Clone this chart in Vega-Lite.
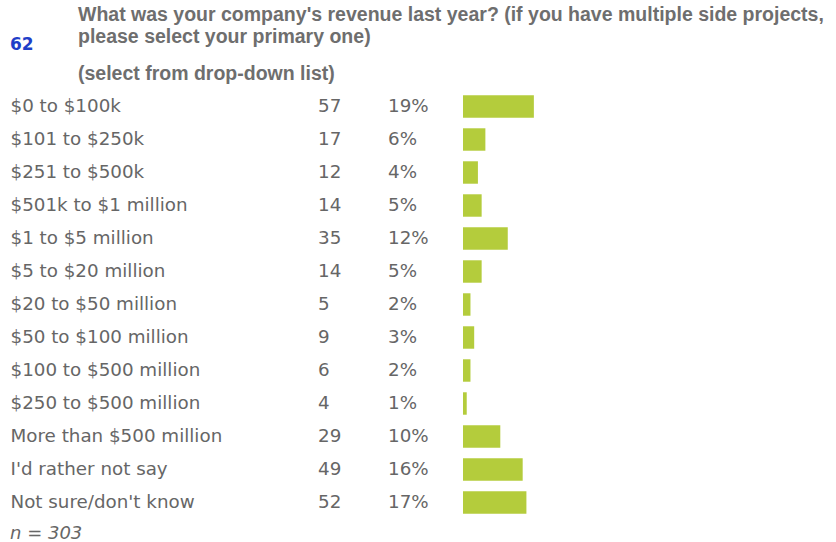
{
  "$schema": "https://vega.github.io/schema/vega-lite/v6.json",
  "background": "white",
  "padding": {"left": 10, "top": 4, "right": 0, "bottom": 4},
  "bounds": "flush",
  "spacing": 0,
  "data": {
    "values": [
      {"range": "$0 to $100k", "count": 57, "pct": 0.19},
      {"range": "$101 to $250k", "count": 17, "pct": 0.06},
      {"range": "$251 to $500k", "count": 12, "pct": 0.04},
      {"range": "$501k to $1 million", "count": 14, "pct": 0.05},
      {"range": "$1 to $5 million", "count": 35, "pct": 0.12},
      {"range": "$5 to $20 million", "count": 14, "pct": 0.05},
      {"range": "$20 to $50 million", "count": 5, "pct": 0.02},
      {"range": "$50 to $100 million", "count": 9, "pct": 0.03},
      {"range": "$100 to $500 million", "count": 6, "pct": 0.02},
      {"range": "$250 to $500 million", "count": 4, "pct": 0.01},
      {"range": "More than $500 million", "count": 29, "pct": 0.10},
      {"range": "I'd rather not say", "count": 49, "pct": 0.16},
      {"range": "Not sure/don't know", "count": 52, "pct": 0.17}
    ]
  },
  "title": {
    "text": "n = 303",
    "orient": "bottom",
    "anchor": "start",
    "font": "DejaVu Sans",
    "fontSize": 18,
    "fontStyle": "italic",
    "fontWeight": "normal",
    "color": "#666666",
    "offset": 6
  },
  "config": {
    "view": {"stroke": null},
    "text": {"font": "DejaVu Sans", "fontSize": 18.3, "color": "#666666"}
  },
  "hconcat": [
    {
      "width": 70,
      "height": 429,
      "title": {
        "text": ["What was your company's revenue last year? (if you have multiple side projects,", "please select your primary one)"],
        "subtitle": "(select from drop-down list)",
        "anchor": "start",
        "frame": "bounds",
        "dx": 68,
        "font": "Liberation Sans",
        "fontSize": 19.5,
        "fontWeight": "bold",
        "color": "#6e6e6e",
        "lineHeight": 22,
        "subtitleFont": "Liberation Sans",
        "subtitleFontSize": 19.5,
        "subtitleFontWeight": "bold",
        "subtitleColor": "#6e6e6e",
        "subtitlePadding": 17.75,
        "offset": 5.75
      },
      "mark": {"type": "text", "align": "left", "baseline": "middle"},
      "encoding": {
        "y": {
          "field": "range",
          "type": "nominal",
          "sort": null,
          "scale": {"paddingInner": 0.32, "paddingOuter": 0.16},
          "axis": {
            "title": null,
            "ticks": false,
            "domain": false,
            "grid": false,
            "labelAlign": "left",
            "labelPadding": 308,
            "labelFont": "DejaVu Sans",
            "labelFontSize": 18.3,
            "labelColor": "#666666",
            "labelLimit": 400
          }
        },
        "x": {"value": 0},
        "text": {"field": "count", "type": "quantitative"}
      }
    },
    {
      "width": 75,
      "height": 429,
      "title": {
        "text": "62",
        "anchor": "start",
        "frame": "group",
        "dx": -378,
        "font": "DejaVu Sans",
        "fontSize": 17,
        "fontWeight": "bold",
        "color": "#1f3fc8",
        "offset": 36
      },
      "mark": {"type": "text", "align": "left", "baseline": "middle"},
      "encoding": {
        "y": {
          "field": "range",
          "type": "nominal",
          "sort": null,
          "scale": {"paddingInner": 0.32, "paddingOuter": 0.16},
          "axis": null
        },
        "x": {"value": 0},
        "text": {"field": "pct", "type": "quantitative", "format": ".0%"}
      }
    },
    {
      "width": 373,
      "height": 429,
      "mark": {"type": "bar", "color": "#b4cc3c"},
      "encoding": {
        "y": {
          "field": "range",
          "type": "nominal",
          "sort": null,
          "scale": {"paddingInner": 0.32, "paddingOuter": 0.16},
          "axis": null
        },
        "x": {
          "field": "pct",
          "type": "quantitative",
          "scale": {"domain": [0, 1]},
          "axis": null
        }
      }
    }
  ]
}
